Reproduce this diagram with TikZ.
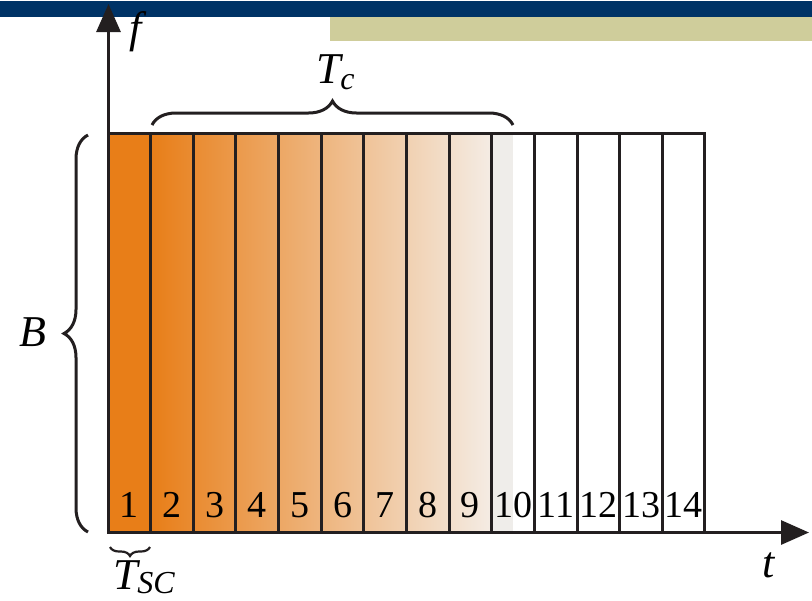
\documentclass[tikz,border=0pt]{standalone}
\usepackage{fontspec}
\setmainfont{Liberation Serif}
\usetikzlibrary{arrows.meta,decorations.pathreplacing}
\definecolor{ink}{RGB}{35,31,32}
\definecolor{barblue}{RGB}{0,51,102}
\definecolor{barkhaki}{RGB}{207,205,155}
\definecolor{slotorange}{RGB}{232,126,24}
\definecolor{slotfade}{RGB}{244,236,228}
\definecolor{slotgrey}{RGB}{239,237,234}
\begin{document}
\begin{tikzpicture}[x=0.5pt, y=-0.5pt, inner sep=0pt, outer sep=0pt,
	axis/.style={draw=ink, line width=1.5pt, -{Triangle[length=14pt,width=12pt]}},
	slot/.style={draw=ink, line width=1.5pt},
	num/.style={font=\fontsize{19}{19}\selectfont, anchor=base},
	lab/.style={font=\fontsize{22}{22}\selectfont\itshape},
	brace/.style={draw=ink, line width=1.5pt, decorate, decoration={brace, amplitude=#1}}]
			\useasboundingbox (0, 0) rectangle (812, 600);
			\path[fill=barblue] (0, 1) rectangle (812, 17);
			\path[fill=barkhaki] (330, 17) rectangle (812, 41);
			\path[fill=slotorange] (108, 133) rectangle (151, 532);
			\shade[left color=slotorange, right color=slotfade] (151, 133) rectangle (491, 532);
			\path[fill=slotgrey] (491, 133) rectangle (513, 532);
			\foreach \i in {1,...,14} {
				\path[slot] ({108+42.64*(\i-1)}, 133) rectangle ({108+42.64*\i}, 532);
				\node[num] (text\i) at ({108+42.64*(\i-0.5)}, 517) {\i};
			}
			\coordinate (origin) at (108.5, 532.5);
			\coordinate (ftip) at (108.5, 4);
			\coordinate (ttip) at (809, 532.5);
			\path[axis] (origin) -- (ftip);
			\path[axis] (origin) -- (ttip);
			\node[lab] (textf) at (136, 32) {f};
			\node[lab] (textt) at (769, 565) {t};
			\node[lab] (textB) at (33, 332) {B};
			\node[lab, anchor=base west] (textTc) at (316, 83)
				{T\raisebox{-3pt}{\fontsize{16}{16}\selectfont c}};
			\node[lab, anchor=base west] (textTsc) at (113, 589)
				{T\raisebox{-2pt}{\fontsize{16}{16}\selectfont SC}};
			% braces
			\coordinate (bleft) at (152, 125);
			\coordinate (bright) at (513, 125);
			\coordinate (btop) at (88, 135);
			\coordinate (bbottom) at (88, 532);
			\coordinate (sleft) at (110, 547);
			\coordinate (sright) at (150, 547);
			\path[brace=12pt] (bleft) -- (bright);
			\path[brace=12pt] (bbottom) -- (btop);
			\path[brace=4.5pt, line width=1.1pt] (sright) -- (sleft);
		\end{tikzpicture}
\end{document}
